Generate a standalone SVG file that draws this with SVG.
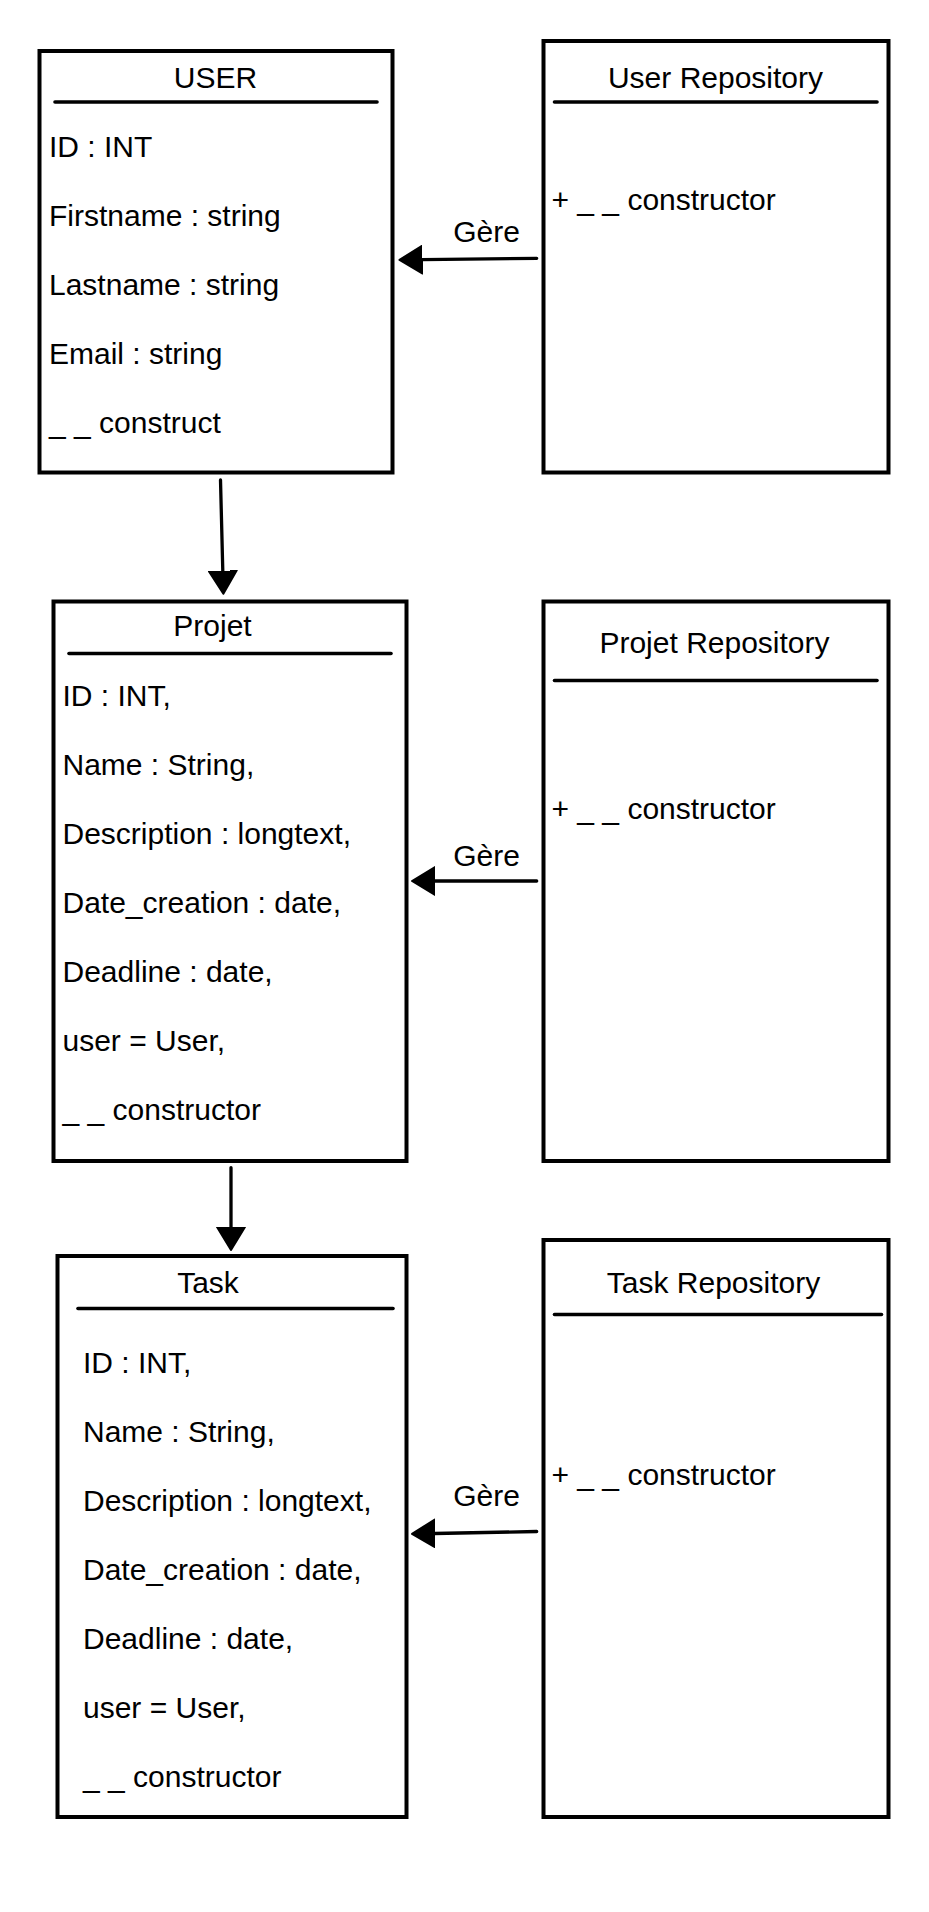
<svg xmlns="http://www.w3.org/2000/svg" width="929" height="1912" viewBox="0 0 929 1912">
<style>
.box{fill:#fff;stroke:#000;stroke-width:4}
.sep{stroke:#000;stroke-width:3.6;stroke-linecap:round}
.t{font-family:"Liberation Sans",Arial,Helvetica,sans-serif;font-size:30px;fill:#000}
.c{text-anchor:middle}
.conn{fill:none;stroke:#000;stroke-width:3.3;stroke-linecap:round}
</style>
<defs>
<marker id="ah" viewBox="0 0 24 30" refX="0.5" refY="15" markerWidth="24" markerHeight="30" markerUnits="userSpaceOnUse" orient="auto">
<path d="M0,1 L23,15 L0,29 Z" fill="#000" stroke="#000" stroke-width="2" stroke-linejoin="round"/>
</marker>
</defs>
<rect width="929" height="1912" fill="#fff"/>

<g id="user">
<rect class="box" x="39.5" y="51" width="353" height="421.5"/>
<text class="t c" x="215.5" y="87.5">USER</text>
<line class="sep" x1="55" y1="102" x2="377" y2="102"/>
<text class="t" x="49" y="157">ID : INT</text>
<text class="t" x="49" y="226">Firstname : string</text>
<text class="t" x="49" y="294.5">Lastname : string</text>
<text class="t" x="49" y="363.5">Email : string</text>
<text class="t" x="49" y="432.5">_ _ construct</text>
</g>

<g id="user-repository">
<rect class="box" x="543.5" y="41" width="345" height="431.5"/>
<text class="t c" x="715.5" y="87.5">User Repository</text>
<line class="sep" x1="554.5" y1="102" x2="877" y2="102"/>
<text class="t" x="551.5" y="210">+ _ _ constructor</text>
</g>

<g id="projet">
<rect class="box" x="53.5" y="601.5" width="353" height="559.5"/>
<text class="t c" x="212.5" y="635.5">Projet</text>
<line class="sep" x1="69" y1="653.5" x2="391" y2="653.5"/>
<text class="t" x="62.5" y="706">ID : INT,</text>
<text class="t" x="62.5" y="774.5">Name : String,</text>
<text class="t" x="62.5" y="843.5">Description : longtext,</text>
<text class="t" x="62.5" y="912.5">Date_creation : date,</text>
<text class="t" x="62.5" y="982">Deadline : date,</text>
<text class="t" x="62.5" y="1050.5">user = User,</text>
<text class="t" x="62.5" y="1119.5">_ _ constructor</text>
</g>

<g id="projet-repository">
<rect class="box" x="543.5" y="601.5" width="345" height="559.5"/>
<text class="t c" x="714.5" y="652.5">Projet Repository</text>
<line class="sep" x1="554.5" y1="680.5" x2="877" y2="680.5"/>
<text class="t" x="551.5" y="818.5">+ _ _ constructor</text>
</g>

<g id="task">
<rect class="box" x="57.5" y="1256" width="349" height="561"/>
<text class="t c" x="208" y="1292.5">Task</text>
<line class="sep" x1="78" y1="1308.5" x2="393" y2="1308.5"/>
<text class="t" x="83" y="1372.5">ID : INT,</text>
<text class="t" x="83" y="1441.5">Name : String,</text>
<text class="t" x="83" y="1510.5">Description : longtext,</text>
<text class="t" x="83" y="1580">Date_creation : date,</text>
<text class="t" x="83" y="1649">Deadline : date,</text>
<text class="t" x="83" y="1718">user = User,</text>
<text class="t" x="83" y="1787">_ _ constructor</text>
</g>

<g id="task-repository">
<rect class="box" x="543.5" y="1240" width="345" height="577"/>
<text class="t c" x="713.5" y="1292.5">Task Repository</text>
<line class="sep" x1="554.5" y1="1314.5" x2="881.5" y2="1314.5"/>
<text class="t" x="551.5" y="1484.5">+ _ _ constructor</text>
</g>

<g id="connectors">
<path class="conn" d="M536.7,258.3 L422,259.6" marker-end="url(#ah)"/>
<text class="t c" x="486.5" y="241.5">Gère</text>
<path class="conn" d="M220.5,480 L222.8,571.2" marker-end="url(#ah)"/>
<path class="conn" d="M536.7,881 L434.5,881" marker-end="url(#ah)"/>
<text class="t c" x="486.5" y="866">Gère</text>
<path class="conn" d="M231,1167.7 L231,1227.5" marker-end="url(#ah)"/>
<path class="conn" d="M536.7,1531.5 L434.5,1533.5" marker-end="url(#ah)"/>
<text class="t c" x="486.5" y="1505.5">Gère</text>
</g>
</svg>
